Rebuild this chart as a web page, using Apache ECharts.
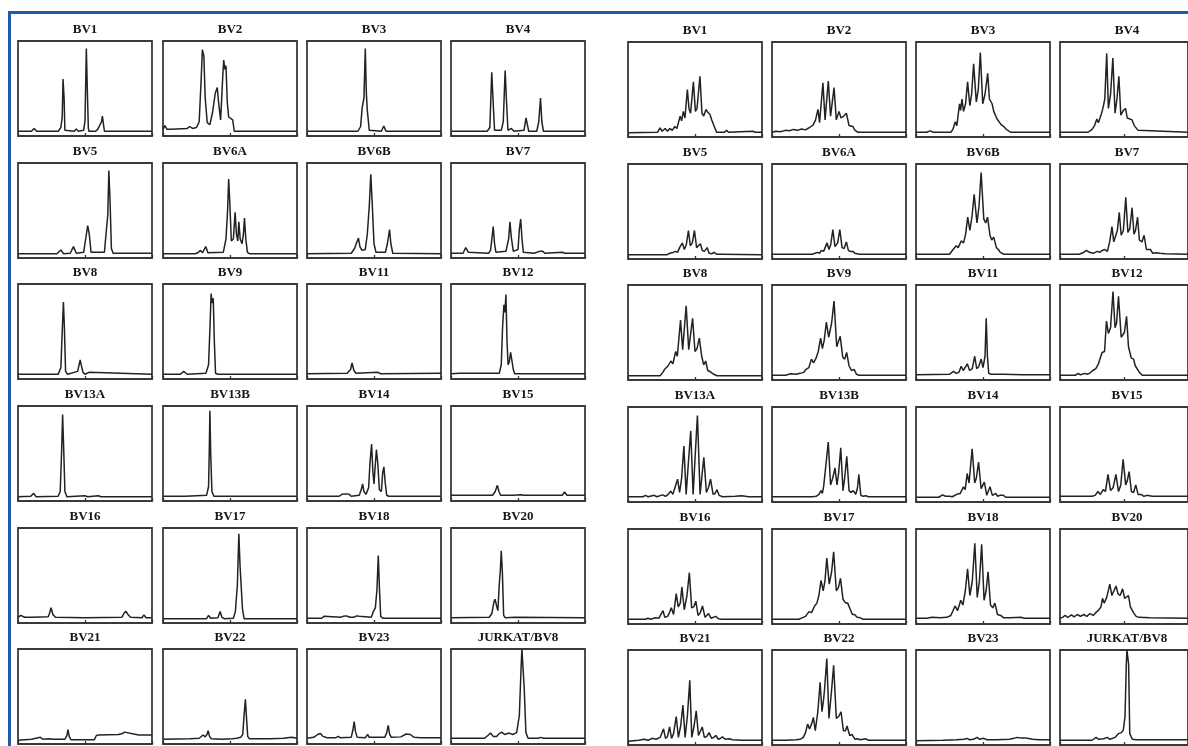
<!DOCTYPE html>
<html>
<head>
<meta charset="utf-8">
<script src="https://cdn.jsdelivr.net/npm/echarts@6/dist/echarts.min.js"></script>
<style>
html,body{margin:0;padding:0;background:#fff;}
#chart{width:1188px;height:746px;}
</style>
</head>
<body>
<div id="chart"></div>
<script>
// ---- panel titles ----
const leftLabels = ['BV1','BV2','BV3','BV4','BV5','BV6A','BV6B','BV7','BV8','BV9','BV11','BV12',
  'BV13A','BV13B','BV14','BV15','BV16','BV17','BV18','BV20','BV21','BV22','BV23','JURKAT/BV8'];
const rightLabels = ['BV1','BV2','BV3','BV4','BV5','BV6A','BV6B','BV7','BV8','BV9','BV11','BV12',
  'BV13A','BV13B','BV14','BV15','BV16','BV17','BV18','BV20','BV21','BV22','BV23','JURKAT/BV8'];

// ---- left group traces: [size position %, signal % of panel height] ----
const L_BV1 = [[0,5],[10,5],[12,8],[14,5],[30,5],[32,9],[33,20],[33.6,60],[34.4,40],[35,6],[42,5],[43.5,7.5],[45,5],[49,6],[50,16],[51,92],[51.8,45],[52.5,8],[53,5],[58,5],[59.7,7.5],[61,7],[62.3,15],[63,21],[63.8,12],[64.5,5],[100,5]];
const L_BV2 = [[0,7],[1.5,11],[3,7],[4,5],[6,7],[18,8],[20,10],[22,8],[25,9],[27,15],[28.5,60],[29.4,91],[30.5,84],[31.5,40],[33,14],[35,12],[37,25],[39,45],[40.5,51],[41.5,35],[43,17],[44.5,60],[45.3,80],[46.2,70],[47,74],[48,35],[49,20],[50.4,20],[52,17],[53.2,5],[100,5]];
const L_BV3 = [[0,5],[38,5],[40,10],[41.2,30],[42.5,40],[43.5,92],[44.3,45],[45,27],[46.5,6],[55.5,5],[57.3,10.5],[59,5],[100,5]];
const L_BV4 = [[0,5],[27,5],[29,9],[30.4,67],[31.3,40],[32.5,6],[37.5,6],[39,15],[40.4,69],[41.3,40],[42.5,6],[45,8],[47,5],[54.5,6],[56,19],[57,12],[58,5],[64,5],[65.5,15],[66.8,40],[67.8,15],[69,5],[100,5]];
const L_BV5 = [[0,4.5],[29,4.5],[32,8.5],[34,4.5],[39,5],[41.4,12],[43.5,5],[49,6],[50.5,20],[52,34],[53.2,25],[54.5,6],[64.5,6],[66,30],[67,45],[67.8,92],[68.7,60],[69.7,10],[71,5],[100,5]];
const L_BV6A = [[0,4.5],[24,4.5],[26,5.5],[28,8],[29.5,5.5],[31.9,12],[33.5,5.5],[45,6],[47,20],[48.2,50],[49,83],[49.8,60],[51,18],[52.5,20],[53.8,48],[54.8,25],[55.8,18],[56.6,38],[57.6,20],[59,15],[60,25],[60.8,42],[61.8,20],[63,6],[64.5,4.5],[100,4.5]];
const L_BV6B = [[0,4.5],[33,5],[35.5,10],[37,16],[38.4,21],[39.5,12],[41,8],[43.5,9],[45,25],[46.5,55],[47.6,88],[48.6,60],[50,15],[51.5,6],[58.5,6],[60,15],[61.6,30],[62.6,15],[64,5],[100,4.5]];
const L_BV7 = [[0,5],[9,5],[11,11],[13,6],[28,5],[29.5,8],[30.5,20],[31.5,33],[32.5,15],[33.5,6],[41,7],[43,20],[44,38],[45,22],[46.5,7],[50,9],[51,30],[52,41],[53,20],[54,6],[62,5],[66,7],[67,6],[68.5,7],[70,5],[83,6],[85,5],[100,5]];
const L_BV8 = [[0,5],[30,5],[32,12],[33,50],[33.9,81],[34.6,55],[35.5,8],[37,5],[44.5,8],[46.4,20],[47.3,14],[48.5,7],[50,5],[53,7],[54,5],[100,5]];
const L_BV9 = [[0,5],[13,5],[15.4,8],[18,5],[32,6],[34,15],[35.2,60],[35.9,90],[36.6,80],[37.5,85],[38.3,40],[39.2,6],[41,5],[100,5]];
const L_BV11 = [[0,5.5],[30,6],[32.5,10],[33.6,17],[35,9],[36.5,6],[53,7],[55,5.5],[100,6]];
const L_BV12 = [[0,5.5],[6.5,6],[7.7,7],[9,6],[13.5,6],[14.8,8],[16,6],[36,6],[37.5,15],[38.5,55],[39.5,78],[40.2,70],[41,89],[41.8,40],[42.6,15],[43.5,18],[44.5,28],[45.5,28],[46.5,10],[47.5,5.5],[100,5.5]];
const L_BV13A = [[0,4.5],[9.5,5],[11.7,8],[13.5,4.5],[30,5],[31.5,10],[32.5,50],[33.3,91],[34.1,55],[35,10],[36.5,4.5],[50,5.5],[52,4.5],[60,5.5],[62,4.5],[85.5,4.5],[86.7,6.5],[88,4.5],[100,4.5]];
const L_BV13B = [[0,5],[14,5],[15.4,6],[17,5],[32.5,6],[34,15],[34.5,50],[35,95],[35.6,50],[36.5,10],[38,5],[100,5]];
const L_BV14 = [[0,5],[24,5],[26,7],[29,7.5],[31.5,7],[33,5],[39,6],[40.5,12],[41.5,18],[42.5,10],[44,7],[46,14],[47,40],[48.2,60],[49.2,30],[50,18],[50.8,35],[51.8,54],[52.8,40],[54,12],[55.5,10],[56.5,30],[57.4,36],[58.3,20],[59.5,6],[61,5],[87,5],[88,6],[89,5],[100,5]];
const L_BV15 = [[0,6],[31,6],[33,10],[34.6,16.5],[35.8,10],[37,6],[43.5,6],[44.7,8],[46,6],[52.4,6.5],[54,6],[83,6],[84.7,9.5],[86.5,6],[100,6]];
const L_BV16 = [[0,6],[2,8],[3.3,10],[5,6],[10,6],[22.5,6.5],[23.5,10],[24.7,16],[26,9],[28,6],[50,5.5],[77.5,6],[79,10],[80.5,12.5],[82,9],[84,6],[92.5,5.5],[94,8.5],[95.5,5.5],[100,5.5]];
const L_BV17 = [[0,4.5],[32.5,4.5],[34,8],[35.5,5],[41,5.5],[42.6,12],[44,6],[46,4.5],[52.5,5],[54,12],[55.5,40],[56.6,94],[57.5,60],[58.3,58],[59.3,15],[60.5,4.5],[100,4.5]];
const L_BV18 = [[0,5],[11,5],[12.6,7],[14,5.5],[25,6],[27,7],[29.4,7.5],[32,6],[35,6],[37,7.5],[39,7],[48,6],[49.5,12],[51,16],[52.2,35],[53.2,71],[54.1,35],[55,7],[56.5,5],[100,5]];
const L_BV20 = [[0,5.5],[28.5,6],[30.5,10],[32,22],[32.9,25],[34,18],[35,13],[36,40],[36.8,55],[37.5,76],[38.3,55],[39.3,8],[40.5,5.5],[48,6],[49,5.5],[100,5.5]];
const L_BV21 = [[0,4],[10,5],[16.7,7],[18.5,5],[23.5,5.5],[24.9,7],[26.5,5],[35,5],[36.5,9],[37.3,15],[38.2,8],[39.5,4.5],[57,4.5],[58.5,9],[60,9.5],[75,10],[78,11],[79.6,12.5],[81,10.5],[90,9.5],[100,9.5]];
const L_BV22 = [[0,5],[20,5.5],[27,6],[29.9,9.5],[31.5,7.5],[32.8,10],[33.7,14],[34.7,8],[36,5.5],[44,5],[52,5.5],[55,6],[58,7],[59.5,10],[60.5,30],[61.5,47],[62.3,28],[63.2,8],[64.5,5.5],[72,5.5],[80,5.5],[90,6],[96,7],[100,6]];
const L_BV23 = [[0,6],[5,7],[8,10],[10,11],[12,8],[15,6.5],[21,6.5],[23.4,8],[25,6.5],[33,7],[34.3,15],[35.2,23.5],[36.2,13],[37.5,7],[43.5,6.5],[45.2,10],[46.5,7],[58,7],[59.5,12],[60.6,19.5],[61.7,10],[63,7],[70,7.5],[74,10.5],[77,10],[80,7],[85,6.5],[100,6.5]];
const L_JURKAT = [[0,6],[25,6],[27.5,9],[29.5,11.5],[31.5,8],[34,8],[36,11],[37.8,12.5],[40,10],[43.3,11.5],[46,10],[49,12],[51,30],[52.3,80],[52.9,100],[53.8,100],[54.6,60],[55.9,12],[57.5,6],[65,6],[67,7],[69,6],[100,6]];

// ---- right group traces ----
const R_BV1 = [[0,4.5],[22,5],[24,9.5],[25.5,6],[27.7,9],[29.5,6],[31.2,9],[33,7],[35,11],[36.5,9],[38.9,22],[40,17],[41.3,27],[42.5,20],[44.3,50],[45.5,30],[46.7,25],[48.8,58],[50.3,27],[51.5,30],[53.7,64],[55.2,25],[56.5,22],[58.2,29],[59.5,26],[61.1,24],[62.5,18],[63.6,14],[64.9,12],[66.1,5],[72,5],[73.5,7],[75,5],[93.3,6],[95,5],[100,5]];
const R_BV2 = [[0,5],[3,6],[6,5.5],[10,7],[13,6.5],[16,8],[19,7],[22,8.5],[25,7.5],[28,10],[30.6,12.5],[32.5,18],[34.3,29],[35.5,15],[38,57],[39.6,18],[42,59],[43.7,22],[46.3,52],[48,18],[50,27],[51.5,20],[53.5,22],[55.5,25],[57.5,12],[60.4,11],[62,7],[64.2,5],[100,5]];
const R_BV3 = [[0,5],[8,5],[10.5,6.5],[13,5],[26,5],[27.5,8],[29.3,16],[30.5,12],[32.5,35],[33.3,28],[34.3,40],[35.5,27],[37,35],[38.5,58],[40.2,33],[41.5,45],[43,77],[45,37],[46.5,50],[48,89],[49.8,35],[51.5,45],[53.5,67],[54.8,40],[56.8,35],[58,27],[59.3,25],[60.5,19],[61.8,17],[63.5,13],[65.5,11],[67.5,8],[70.5,5],[100,5]];
const R_BV4 = [[0,5],[22,5],[25,8],[27,12],[28.8,19],[30,15],[31.3,17],[32.5,25],[33.8,32],[35,40],[36.5,88],[37.8,30],[39.5,45],[41.3,83],[43,25],[44.5,40],[46,64],[47.5,23],[49.5,28],[51.3,30],[52.5,20],[54,18],[56.3,18],[58,12],[59.5,11],[61,7],[62.5,5],[100,5]];
const R_BV5 = [[0,4.5],[29,4.5],[31,6],[33,6.5],[35.3,8],[37,7],[38.5,12],[40.6,17],[42,10],[43.5,15],[45.1,30],[46.5,14],[48,17],[49.6,30],[51.2,12],[52.5,11],[54,16],[55.5,9],[57,8],[59.1,12],[60.5,6],[62.5,5.5],[64.4,7],[66,5],[70,5],[100,4.5]];
const R_BV6A = [[0,5],[30,5],[32,6],[33.9,7],[35.5,6],[36.8,9],[38.5,8],[41.1,17],[42.5,10],[43.8,15],[45.4,31],[47,13],[49,17],[50.6,31],[52.3,12],[53.8,11],[55.5,18],[57,9],[58.5,8],[60.3,8],[62,6],[65,5],[100,5]];
const R_BV6B = [[0,5],[25,5],[27.1,9],[28.5,8],[30,14],[31.5,12],[33.7,19],[35.5,17],[37,26],[38.6,44],[40.2,30],[41.8,45],[43.4,68],[45.5,38],[47,55],[48.6,91],[50.6,42],[52,38],[53.4,44],[55.2,25],[56.5,20],[58,23],[60,12],[61.5,10],[62.9,7],[65.7,5],[100,5]];
const R_BV7 = [[0,5],[15,5],[18,6.5],[20.6,9],[23,7],[26,6],[29,8],[31,7],[33,9],[35,10],[37,8],[38.8,18],[40.6,34],[42,18],[43.5,20],[44.8,30],[46.3,49],[47.8,25],[49.5,30],[51.4,65],[53,28],[54.5,32],[56.3,54],[57.8,26],[59,30],[60.6,44],[62,20],[64,18],[65.7,25],[67.5,10],[69,9],[70.6,10],[72.5,6],[75,6.5],[78,6],[82,5.5],[100,5]];
const R_BV8 = [[0,4.5],[24,4.5],[26,8],[27.2,11],[28.5,9],[30,15],[32,20],[33.5,17],[35.6,30],[36.8,25],[39.2,63],[40.8,32],[43.4,78],[45.3,32],[48.2,65],[50,30],[51.5,33],[53.2,44],[55,25],[56.5,16],[58,20],[59.5,10],[61,9],[62.2,9],[64,6],[66.4,4.5],[100,4.5]];
const R_BV9 = [[0,5],[10,5],[14,6.5],[18,6],[21,7],[23.5,8],[25.7,11.5],[27.5,13],[29.4,22],[31,18],[32.9,23],[34.5,30],[36.3,44],[37.6,33],[39,42],[40.6,61],[42.3,45],[44.5,60],[46.3,83],[48.3,35],[50.9,46],[52.8,24],[54.3,22],[55.7,29],[57.5,15],[59.3,10],[61.4,11],[63,6],[65,5],[100,5]];
const R_BV11 = [[0,5.5],[25,6],[28,9],[30,7],[32,8],[33.7,14.5],[35.3,10],[36.5,11],[38.3,17],[40,10],[42,12],[43.8,25],[45.3,12],[46.8,14],[48.6,22],[50,13],[51.5,25],[52.4,65],[53.3,25],[54.3,7],[56,6],[65,6],[80,5.5],[100,5.5]];
const R_BV12 = [[0,5],[12,5],[14.3,7],[16,5.5],[19.4,7],[21,6],[23,7],[25.7,10],[28,12],[30,17],[31.5,15],[32.9,29],[34.8,30],[36.3,62],[37.8,49],[39.5,55],[41.4,93],[43,55],[44.2,60],[45.7,88],[47.8,45],[50.3,50],[52,67],[53.5,35],[55.7,23],[57.5,22],[58.8,15],[60,14],[62,8],[64.3,5],[100,5]];
const R_BV13A = [[0,5.5],[11,5.5],[13.2,7],[15,5.5],[19.6,7],[21.5,5.5],[25.8,7.5],[28,6],[30,8],[31.9,11.5],[33.5,8],[35,15],[37,24],[38.5,10],[40,25],[41.7,59],[43.4,8],[45,40],[46.8,75],[48.6,8],[50,45],[51.8,91],[53.8,8],[55,25],[56.6,47],[58.5,10],[60,15],[61.6,24],[63.5,8],[65,9],[66.4,13],[68,7],[70.6,5.5],[80,6],[85,6.5],[90,5.5],[100,5.5]];
const R_BV13B = [[0,5.5],[30,5.5],[33,6],[35,8],[36.6,12],[37.6,9],[38.6,17],[40,16],[42,63],[43.7,18],[45.3,25],[47,36],[48.5,18],[49.7,30],[51.3,57],[53,12],[54.2,25],[55.8,48],[57.5,12],[59,10],[60.6,12],[62.5,8],[63.8,15],[64.8,29],[66.3,7],[68,6],[70,6.5],[72,5.5],[100,5.5]];
const R_BV14 = [[0,5],[17,5],[19.8,7.5],[22,6],[25,6],[27,5.5],[31.2,8.5],[33,9],[35.4,16],[36.7,13],[38.2,30],[39.6,20],[41.9,56],[43.8,20],[45,25],[46.7,42],[48.6,14],[51,21],[52.8,7],[55.2,16],[57,7],[59.5,9],[61,6],[62.5,7],[65.2,7],[67,5],[100,5]];
const R_BV15 = [[0,6],[25,6],[27.5,7],[29.6,11],[31.5,8],[33.8,13],[35.5,11],[37.5,29],[39.5,12],[41.5,15],[43.7,29],[45.7,11],[47.5,18],[49.3,45],[51.3,18],[52.5,22],[54,32],[55.8,11],[57.5,10],[59.2,18],[61,8],[63.4,8],[65.5,6],[68,7],[72,6],[100,6]];
const R_BV16 = [[0,5],[13,5],[14.9,6],[17,5],[20.5,6.5],[23,6],[26.1,14],[27.5,7],[29.5,8],[31,12],[32.3,17],[34,10],[36,32],[37.5,18],[39,22],[40.2,39],[42,15],[44,30],[45.8,54],[47.5,17],[49,18],[50.6,24],[52.3,9],[54,12],[55.6,19],[57.5,7],[60.1,11],[62,6],[65.4,8],[67.5,5.5],[69.7,5],[100,5]];
const R_BV17 = [[0,5],[20,5],[23.3,7],[25,8],[27.6,13],[29.5,12],[31.8,19],[33.5,22],[35,30],[36.6,46],[38.2,35],[39.5,45],[40.9,69.5],[42.7,42],[44.5,55],[46,76],[48,35],[49.5,38],[51.1,48],[53,26],[55,22],[56.5,22],[58.5,15],[60,10],[61.6,10],[63.5,7],[65.9,6.5],[68,5],[100,5]];
const R_BV18 = [[0,6],[8,6],[12,7],[18,6.5],[23,7],[26,9],[29.2,19],[31,14],[33.4,25],[35,20],[36.8,35],[38.5,58],[40.2,30],[42,45],[43.9,85],[45.7,28],[47.3,45],[49,84],[50.8,25],[52.3,35],[53.8,55],[55.6,20],[57.3,17],[58.9,22],[60.8,10],[63.2,9],[65.5,6.5],[70,6.5],[78.8,7],[80.5,6],[100,6]];
const R_BV20 = [[0,6],[2,7],[4,9],[6,7],[9,9.5],[11,7.5],[13.5,10],[16,8],[18.5,10],[21,8],[23.5,11],[26,9],[28,12],[30.4,15],[32,18],[33.2,27],[34.5,22],[36.5,28],[38.9,42],[40.5,30],[42,32],[43.8,40],[45.3,32],[47,30],[48.9,37],[50.5,27],[52,26],[53.5,30],[55,18],[57.4,12],[59.5,8],[61.6,7],[70,6.5],[100,6]];
const R_BV21 = [[0,4],[4,4.5],[8,5],[12,6],[15,5],[18,7],[21,6],[24,8],[25,6.5],[26.5,17],[28,7],[29.5,9],[31,19],[32.5,7],[34,12],[36,30],[37.6,8],[39.3,20],[41,42],[42.6,8],[44.3,30],[46.1,68],[47.6,8],[49.3,20],[50.9,36],[52.6,10],[54,12],[55.4,19],[57,8],[58.8,9],[60.5,13],[62.5,7],[64,8],[65.5,10],[67.5,6],[69,7],[70.5,8.5],[72.5,6],[75.6,6.5],[78,5.5],[85,5],[100,5]];
const R_BV22 = [[0,5],[10,5],[18,5.5],[21,6],[23.4,8],[25,13],[26.6,22],[28,17],[29.5,22],[30.9,29],[32.3,15],[34.2,35],[35.9,66],[37.3,35],[38.5,48],[39.3,60],[40.9,91],[42.5,28],[44.3,55],[46,84],[48,28],[49.8,30],[51.5,35],[53.3,15],[54.8,15],[56,20],[58,10],[59.8,11],[62,6],[63.6,6.5],[66,5.5],[69.8,6.5],[72,5],[100,5]];
const R_BV23 = [[0,4.5],[20,5],[30,5.5],[36,6],[38,7],[40,5.5],[43,6],[45.5,8],[47.5,6],[50.5,7],[53,5.5],[60,5.5],[70,6],[73,7],[75.5,8],[78,7.5],[81,7.5],[83,7],[87,6],[92,5.5],[100,5.5]];
const R_JURKAT = [[0,5],[25,5],[28.3,8],[30,6],[34,6.5],[37,8],[39,6],[43,8],[45.8,12],[48,13],[49.5,16],[50.8,30],[51.8,85],[52.3,100],[53,100],[53.6,85],[54.5,12],[56.5,6],[60,5.5],[100,5.5]];

const leftTraces = [L_BV1,L_BV2,L_BV3,L_BV4,L_BV5,L_BV6A,L_BV6B,L_BV7,L_BV8,L_BV9,L_BV11,L_BV12,
  L_BV13A,L_BV13B,L_BV14,L_BV15,L_BV16,L_BV17,L_BV18,L_BV20,L_BV21,L_BV22,L_BV23,L_JURKAT];
const rightTraces = [R_BV1,R_BV2,R_BV3,R_BV4,R_BV5,R_BV6A,R_BV6B,R_BV7,R_BV8,R_BV9,R_BV11,R_BV12,
  R_BV13A,R_BV13B,R_BV14,R_BV15,R_BV16,R_BV17,R_BV18,R_BV20,R_BV21,R_BV22,R_BV23,R_JURKAT];

// ---- layout ----
const leftCols = [18, 163, 307, 451];
const rightCols = [628, 772, 916, 1060];
const rowTops = [41, 163, 284, 406, 528, 649];
const boxW = 134, boxH = 95;

const grids = [], xAxes = [], yAxes = [], series = [], graphics = [];
const groups = [{cols: leftCols, labels: leftLabels, traces: leftTraces, dy: 0},
                {cols: rightCols, labels: rightLabels, traces: rightTraces, dy: 1}];
let gi = 0;
groups.forEach(g => {
  g.labels.forEach((lab, k) => {
    const r = Math.floor(k / 4), c = k % 4;
    const left = g.cols[c], top = rowTops[r] + g.dy;
    grids.push({left: left, top: top, width: boxW, height: boxH, show: true,
      borderColor: '#3a3a3a', borderWidth: 1.8, backgroundColor: '#fff'});
    xAxes.push({type: 'value', gridIndex: gi, min: 0, max: 100, interval: 50,
      axisLine: {show: false}, axisLabel: {show: false}, splitLine: {show: false},
      axisTick: {show: true, inside: true, length: 3, lineStyle: {color: '#333', width: 1.3}}});
    yAxes.push({type: 'value', gridIndex: gi, min: 0, max: 100, show: false, splitLine: {show: false}});
    series.push({type: 'line', xAxisIndex: gi, yAxisIndex: gi, data: g.traces[k],
      showSymbol: false, symbol: 'none', smooth: false, clip: true,
      lineStyle: {color: '#222222', width: 1.5}, silent: true});
    graphics.push({type: 'text', x: left + boxW / 2, y: top - 11,
      style: {text: lab, font: 'bold 13px "Liberation Serif", "Times New Roman", serif',
        fill: '#151515', align: 'center', verticalAlign: 'middle',
        textAlign: 'center', textVerticalAlign: 'middle'}});
    gi++;
  });
});

// blue frame
graphics.push({type: 'line', shape: {x1: 8, y1: 12.5, x2: 1188, y2: 12.5},
  style: {stroke: '#1f5ba8', lineWidth: 3}});
graphics.push({type: 'line', shape: {x1: 9.5, y1: 11, x2: 9.5, y2: 746},
  style: {stroke: '#1f5ba8', lineWidth: 3}});

const chart = echarts.init(document.getElementById('chart'), null, {renderer: 'canvas'});
chart.setOption({
  animation: false,
  backgroundColor: '#ffffff',
  grid: grids,
  xAxis: xAxes,
  yAxis: yAxes,
  series: series,
  graphic: graphics
});
</script>
</body>
</html>
